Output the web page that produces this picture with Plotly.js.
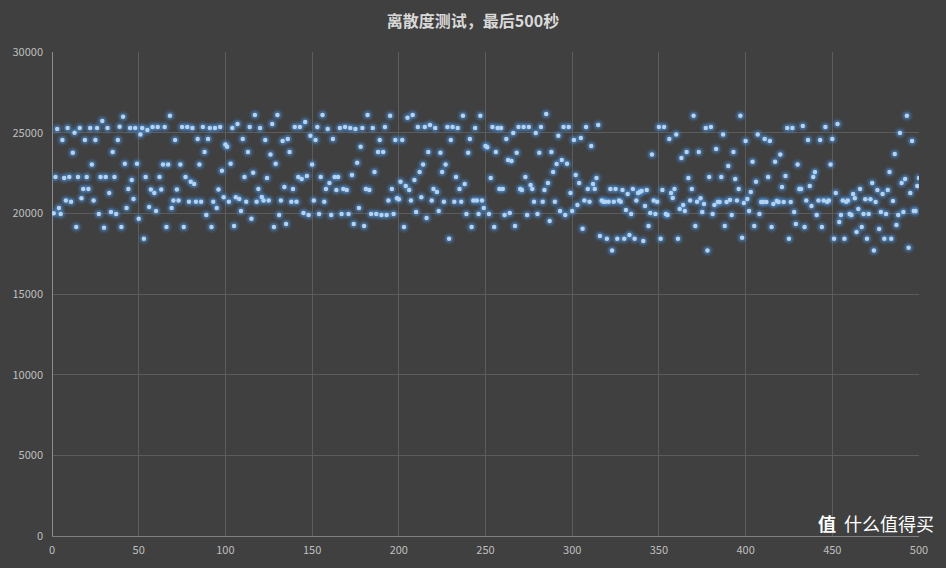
<!DOCTYPE html>
<html><head><meta charset="utf-8">
<script src="https://cdn.plot.ly/plotly-3.0.1.min.js"></script>
<style>html,body{margin:0;padding:0;background:#404040;}</style>
</head><body><div id="chart" style="width:946px;height:568px;"></div>
<script>
// Values, in order of x (seconds 1..500), in segments
const part01 = [20000,22250,25230,20330,19960,24550,22190,20790,25290,22250,20720,23760,25000,19150,22250,25290,20930,21510,24550,22250,21510,25290,23020,20790,24550,25290,19960,22250,25720,19110,22250,25290,21260,20080,23800,22250,19960,24550,25370,19150];
const part02 = [25990,23080,20330,21510,25290,22070,20890,25290,23080,19670,24880,25290,18430,22250,25170,20390,21470,25350,21260,20140,25350,22250,21470,23020,25350,19150,23020,26050,20330,20790,24550,21470,20790,23020,25350,19150,22250,25350,20720,21960,25290,21820];
const part03 = [20720,24610,23020,20720,25350,23800,19900,24610,25290,19150,20720,25290,20330,21470,25350,22640,20990,24260,24130,20720,23080,25290,19210,20990,25540,20890,20140,24610,22250,20720,23800,25350,19670,22520,26090,20720,21510,25290,21010,20790,24550,22190,20790];
const part04 = [23640,25540,19150,23080,26090,19900,20790,24480,21630,19340,24610,23800,20720,21510,25350,20720,22250,25350,22130,20020,25660,22310,19900,24810,23020,20790,24550,25350,19960,22250,26090,20720,21510,25230,21880,19900,24610,22250,21450,22250,25290,19960];
const part05 = [21510,25350,21450,19960,25290,22380,19340,25230,23140,20330,24130,25290,19210,21510,26090,21450,19960,25290,22560,19960,23800,24550,19900,23800,25350,19900,20790,26050,21510,19960,24550,20930,20870,21960,24550,19150,21690,25930,21450,20790,26090,22070,20080];
const part06 = [25350,22560,20990,23020,25350,19710,23800,25480,20790,21510,25290,21320,20140,23760,22560,20720,23020,25350,18430,24550,25350,20720,22250,25290,21510,20720,26050,21820,19960,23760,24610,19150,20790,25290,20790,19960,26050,20790,20330,24170,24090,19960];
const part07 = [22190,25350,19150,23800,25290,21510,25290,21510,19900,24610,23310,20020,23240,24980,19210,23760,25350,21510,21450,25350,22250,19900,25350,21760,21510,20720,24980,19960,23760,25350,20720,21450,26160,21880,19520,23800,22560,20720,23060,24810,20140,23310];
const part08 = [25350,19900,23080,25350,21260,20140,24550,22380,20520,21880,24670,19050,20790,25350,21510,20720,24170,21820,21510,22190,25480,18600,20790,20720,20720,18430,20720,21510,17690,20720,21510,18430,20790,20720,21450,18430,20210,21200,18660,19960,21510,18430,20790,21260];
const part09 = [21320,21380,18290,20450,21450,19210,20020,23640,20790,19960,20720,25350,18430,21450,25350,19960,19900,24610,21260,20950,21510,24880,18430,20270,23430,20520,20140,23800,22190,20790,21510,26050,19210,20720,23800,20930,20080,20580,25290,17690,22250,25350,19960];
const part10 = [20520,23990,20700,20700,22250,24880,19210,20700,22930,20830,19900,23800,22130,20790,21510,26050,18490,20640,24480,20890,20140,21320,23200,19210,21960,24880,19960,20700,20700,24610,20700,22250,24480,19150,20580,23200,20760,20700,23640,21630,20700,22310];
const part11 = [25290,18430,20700,25290,20080,19340,23020,21510,21510,25410,19150,20790,24550,21690,20450,22250,22560,19900,20790,24550,19150,20790,25350,20720,20790,23020,24610,18430,21260,25540,19460,19900,20790,18430,20720,20790,19960,19900,21200,20930,18840,20270];
const part12 = [21510,19150,19960,20870,18430,19960,20870,21880,17690,20700,21450,19030,20080,21200,18430,19960,21450,22560,18430,20760,23680,19280,19900,24980,21880,20080,22130,26050,17870,21260,24480,20140,20140,21690,22190];

const titleText = "离散度测试，最后500秒";

const yVals = [].concat(part01,part02,part03,part04,part05,part06,part07,part08,part09,part10,part11,part12);
const xVals = yVals.map((v,i)=>i+1);

const glowOuter = {x:xVals, y:yVals, type:'scatter', mode:'markers', hoverinfo:'skip',
  marker:{size:12, color:'rgba(60,125,200,0.18)', line:{width:0}}};
const glowInner = {x:xVals, y:yVals, type:'scatter', mode:'markers', hoverinfo:'skip',
  marker:{size:8, color:'rgba(80,145,215,0.35)', line:{width:0}}};
const dots = {x:xVals, y:yVals, type:'scatter', mode:'markers',
  marker:{size:4.5, color:'#b4d3f2', line:{width:0}}};

const layout = {
  width:946, height:568,
  paper_bgcolor:'#404040', plot_bgcolor:'#404040',
  margin:{l:52, r:27, t:52, b:32},
  showlegend:false,
  font:{family:'"Noto Sans CJK SC", "Noto Sans", sans-serif', color:'#bfbfbf', size:11},
  title:{text:'<b>'+titleText+'</b>', x:0.5, xanchor:'center', y:0.962, yref:'container', yanchor:'middle',
    font:{family:'"Noto Sans CJK SC", sans-serif', size:16, color:'#d9d9d9'}},
  xaxis:{range:[0,500], dtick:50, tick0:0, showgrid:true, gridcolor:'#5c5c5c', gridwidth:1,
    zeroline:true, zerolinecolor:'#8c8c8c', zerolinewidth:1, showline:true, linecolor:'#7f7f7f',
    ticks:'', ticklabelstandoff:4, tickfont:{size:11, color:'#bfbfbf'}, fixedrange:true},
  yaxis:{range:[0,30000], dtick:5000, tick0:0, tickformat:'d', showgrid:true, gridcolor:'#5c5c5c', gridwidth:1,
    zeroline:false, showline:false, ticks:'', ticklabelstandoff:8, tickfont:{size:11, color:'#bfbfbf'}, fixedrange:true},
  annotations:[
    {xref:'paper', yref:'paper', x:1.02, y:-0.005, xanchor:'right', yanchor:'bottom', showarrow:false,
     text:'<b>值</b>  什么值得买', font:{size:18, color:'#ffffff', family:'"Noto Sans CJK SC", sans-serif'}}
  ]
};

Plotly.newPlot('chart', [glowOuter, glowInner, dots], layout, {displayModeBar:false, staticPlot:true});
</script>
</body></html>
